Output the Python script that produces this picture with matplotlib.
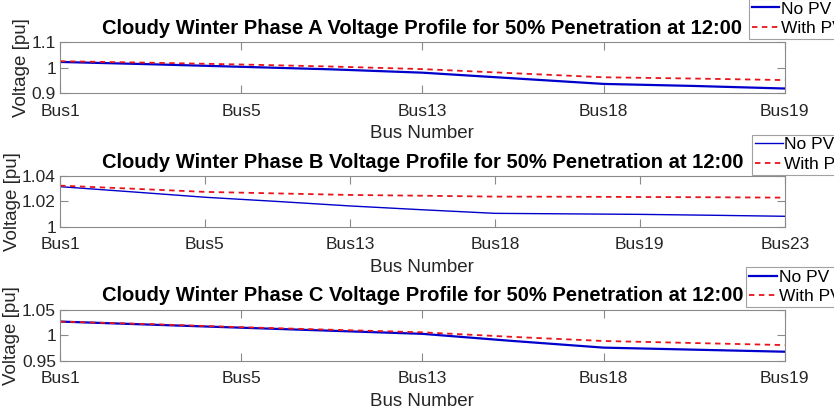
import matplotlib.pyplot as plt

plt.rcParams['font.family'] = ['Liberation Sans', 'DejaVu Sans']

# Phase A
labels_a = ["Bus1", "Bus5", "Bus13", "Bus18", "Bus19"]
x_a = [0, 0.5, 1, 1.5, 2, 2.5, 3, 3.5, 4]
nopv_a = [1.022, 1.013, 1.003, 0.993, 0.980, 0.958, 0.936, 0.928, 0.918]
pv_a = [1.025, 1.019, 1.012, 1.004, 0.994, 0.978, 0.962, 0.957, 0.951]

# Phase B
labels_b = ["Bus1", "Bus5", "Bus13", "Bus18", "Bus19", "Bus23"]
x_b = [0, 0.5, 1, 1.5, 2, 2.5, 3, 3.5, 4, 4.5, 5]
nopv_b = [1.0316, 1.0275, 1.0233, 1.0200, 1.0165, 1.0135, 1.0107, 1.0103, 1.0099, 1.0092, 1.0084]
pv_b = [1.0324, 1.0300, 1.0275, 1.0263, 1.0251, 1.0245, 1.0238, 1.0237, 1.0235, 1.0233, 1.0230]

# Phase C
labels_c = ["Bus1", "Bus5", "Bus13", "Bus18", "Bus19"]
x_c = [0, 0.5, 1, 1.5, 2, 2.5, 3, 3.5, 4]
nopv_c = [1.027, 1.021, 1.015, 1.009, 1.003, 0.989, 0.976, 0.972, 0.968]
pv_c = [1.027, 1.022, 1.016, 1.011, 1.006, 0.997, 0.989, 0.985, 0.981]

panels = [
    ("A", x_a, nopv_a, pv_a, labels_a, (0.9, 1.1), [0.9, 1, 1.1], ["0.9", "1", "1.1"], 0.774,
     (0.898, 1.003), 1.6),
    ("B", x_b, nopv_b, pv_b, labels_b, (1.0, 1.04), [1.0, 1.02, 1.04], ["1", "1.02", "1.04"], 0.449,
     (0.902, 0.673), 1.0),
    ("C", x_c, nopv_c, pv_c, labels_c, (0.95, 1.05), [0.95, 1, 1.05], ["0.95", "1", "1.05"], 0.124,
     (0.895, 0.352), 1.6),
]

fig = plt.figure(figsize=(8.34, 4.12), dpi=100)
gray = "#8a8a8a"

for phase, x, nopv, pv, labels, ylim, yt, ytl, bottom, legpos, blw in panels:
    ax = fig.add_axes([0.072, bottom, 0.869, 0.124])
    ax.plot(x, nopv, color="#0000cc", lw=blw, label="No PV")
    ax.plot(x, pv, color="#e8141a", lw=1.3, ls=(0, (3, 2.5)), label="With PV")
    ax.set_xlim(0, len(labels) - 1)
    ax.set_ylim(*ylim)
    ax.set_xticks(range(len(labels)))
    ax.set_xticklabels(labels)
    ax.set_yticks(yt)
    ax.set_yticklabels(ytl)
    ax.tick_params(direction="in", top=True, right=True, length=6, color=gray,
                   labelsize=12.5, labelcolor="#262626")
    ax.tick_params(axis="x", pad=7.5)
    ax.tick_params(axis="y", pad=3)
    for s in ax.spines.values():
        s.set_color(gray)
        s.set_linewidth(0.8)
    ax.set_title(f"Cloudy Winter Phase {phase} Voltage Profile for 50% Penetration at 12:00",
                 fontsize=14.5, fontweight="bold", pad=6)
    ax.set_xlabel("Bus Number", fontsize=13.5, color="#262626", labelpad=5)
    ax.set_ylabel("Voltage [pu]", fontsize=13.5, color="#262626", labelpad=1)
    leg = fig.legend(handles=ax.get_lines(), loc="upper left", bbox_to_anchor=legpos,
                     fontsize=12.5, frameon=True, fancybox=False, handlelength=1.6,
                     handletextpad=0.1, borderpad=0.15, labelspacing=0.25,
                     borderaxespad=0)
    leg.get_frame().set_edgecolor(gray)
    leg.get_frame().set_linewidth(0.8)

fig.savefig("out.png", dpi=100)
